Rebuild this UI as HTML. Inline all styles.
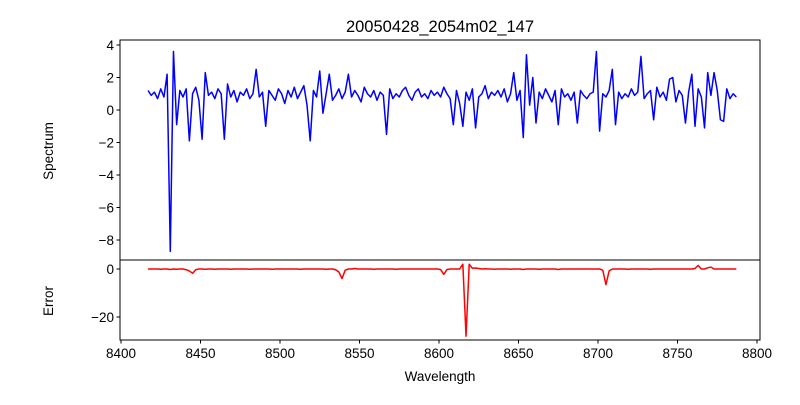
<!DOCTYPE html>
<html><head><meta charset="utf-8"><style>
body{margin:0;background:#fff}
svg text{font-family:"Liberation Sans","DejaVu Sans",sans-serif;fill:#000}
</style></head><body>
<svg id="c" width="800" height="400" xmlns="http://www.w3.org/2000/svg"></svg>
<script>
const startWl = 8417, stepWl = 2;
const spectrum = [
1.2,0.9,1.1,0.7,1.3,0.8,2.2,-8.7,3.6,-0.9,
1.2,0.8,1.3,-1.9,1.0,1.4,0.6,-1.8,2.3,0.9,
1.1,0.7,1.3,1.0,-1.8,1.6,0.8,1.2,0.5,1.1,
0.9,1.3,0.7,1.0,2.5,0.8,1.1,-1.0,1.2,0.9,
0.6,1.3,1.0,0.4,1.2,0.8,1.4,0.7,1.1,1.5,
0.3,-1.9,1.2,0.8,2.4,-0.2,1.0,2.2,0.6,0.9,
1.3,0.7,1.1,2.2,0.8,1.2,0.9,0.5,1.4,1.0,
0.8,1.2,0.6,1.1,0.9,-1.5,1.3,0.7,1.0,0.8,
1.2,1.4,0.9,0.6,1.1,1.3,0.8,1.0,0.7,1.2,
0.9,1.1,0.8,1.4,1.0,0.7,-0.9,1.2,0.4,-1.0,
1.1,0.6,1.3,-1.1,0.8,1.0,1.5,0.7,1.1,0.9,
1.2,0.8,1.3,0.5,1.0,2.3,0.6,1.2,-1.7,3.4,
0.3,2.0,-0.8,1.1,0.7,1.3,0.9,0.5,1.2,-0.9,
1.3,0.8,1.0,0.6,1.1,-0.8,1.2,0.9,0.7,1.0,
1.1,3.6,-1.3,1.0,0.8,1.2,2.5,-0.9,1.1,0.7,
1.0,0.8,1.3,0.9,1.1,3.3,0.7,1.0,1.2,-0.6,
1.4,0.8,1.1,0.6,1.9,2.0,0.5,1.2,0.9,-0.8,
1.1,2.2,-1.0,1.3,0.8,-1.1,2.3,0.9,2.3,1.2,
-0.6,-0.7,1.3,0.7,1.0,0.8];
const errorVals = [
0,0,0,0,-0.1,0,0,-0.2,0,-0.1,
0,0,-0.3,-0.8,-1.8,-0.3,0,0,-0.1,0,
0,-0.1,0,0,0,0,-0.1,0,0,0,
0,0,-0.1,0,0,0,0,0,0,-0.1,
0,0,0,0,0,0,0,0,-0.1,0,
0,0,0,0,0,0,-0.1,0,0,-0.3,
-1.2,-4.0,-0.5,0,0,0.2,0,0,0,0,
0,-0.1,0,0,0,0,0,0,-0.1,0,
0,0,0,0,0,0,0,0,0,0,
0,0,-0.2,-2.2,-0.2,0,0,0,0,2.0,
-28,2.0,0.3,0.4,0.2,0,0.1,0,0,-0.1,
0,0,0,0,-0.1,0,0,0,-0.2,0,
0,0,0,-0.1,0,0,0,0,0,-0.2,
0,0,0,0,0,0,0,0,0,0,
0,0,0,-0.5,-6.5,-0.8,0,0,0,0,
0,-0.1,0,0,0,0,0,0,-0.1,0,
0,0,0,0,0,0,0,0,0,0,
0,0,0.2,1.5,0,0,0.5,0.8,0,0,
0,0,0,0,0,0];
const xTicks = [8400,8450,8500,8550,8600,8650,8700,8750,8800];
const specTicks = [4,2,0,-2,-4,-6,-8];
const errTicks = [0,-20];

const NS="http://www.w3.org/2000/svg", svg=document.getElementById('c');
function mk(t,a,p){const e=document.createElementNS(NS,t);for(const k in a)e.setAttribute(k,a[k]);(p||svg).appendChild(e);return e;}
const L=120,R=760;
const xs=w=>121+(w-8400)*1.59;
const ys=v=>110-v*16.25;
const ye=v=>269-v*2.4;
const fmt=v=>String(v).replace('-','\u2212');

let d=spectrum.map((v,i)=>(i?'L':'M')+xs(startWl+i*stepWl).toFixed(2)+' '+ys(v).toFixed(2)).join('');
let p=mk('path',{d:d,fill:'none',stroke:'#0000ff','stroke-width':1.5,'stroke-linejoin':'round'});


d=errorVals.map((v,i)=>(i?'L':'M')+xs(startWl+i*stepWl).toFixed(2)+' '+ye(v).toFixed(2)).join('');
p=mk('path',{d:d,fill:'none',stroke:'#ff0000','stroke-width':1.5,'stroke-linejoin':'round'});


let f=mk('rect',{x:L,y:40,width:R-L,height:220,fill:'none',stroke:'#000','stroke-width':1});


f=mk('rect',{x:L,y:260,width:R-L,height:80,fill:'none',stroke:'#000','stroke-width':1});


xTicks.forEach(t=>{const x=xs(t);
 mk('line',{x1:x,x2:x,y1:340,y2:343.5,stroke:'#000'});
 const tx=mk('text',{x:x,y:358,'font-size':13.5,'text-anchor':'middle'});tx.textContent=t;
 
 });
specTicks.forEach(t=>{const y=ys(t);
 mk('line',{x1:L-3.5,x2:L,y1:y,y2:y,stroke:'#000'});
 const tx=mk('text',{x:L-6,y:y+5,'font-size':13.5,'text-anchor':'end'});tx.textContent=fmt(t);
 
 });
errTicks.forEach(t=>{const y=ye(t);
 mk('line',{x1:L-3.5,x2:L,y1:y,y2:y,stroke:'#000'});
 const tx=mk('text',{x:L-6,y:y+5,'font-size':13.5,'text-anchor':'end'});tx.textContent=fmt(t);
 
 });
</script>
<svg width="800" height="400" style="position:absolute;left:0;top:0" xmlns="http://www.w3.org/2000/svg">
<text x="440" y="32" font-size="16.5" text-anchor="middle">20050428_2054m02_147</text>
<text x="440" y="381" font-size="13.5" text-anchor="middle">Wavelength</text>
<text transform="translate(53,151) rotate(-90)" font-size="13.5" text-anchor="middle">Spectrum</text>
<text transform="translate(53,301) rotate(-90)" font-size="13.5" text-anchor="middle">Error</text>
</svg>
</body></html>
